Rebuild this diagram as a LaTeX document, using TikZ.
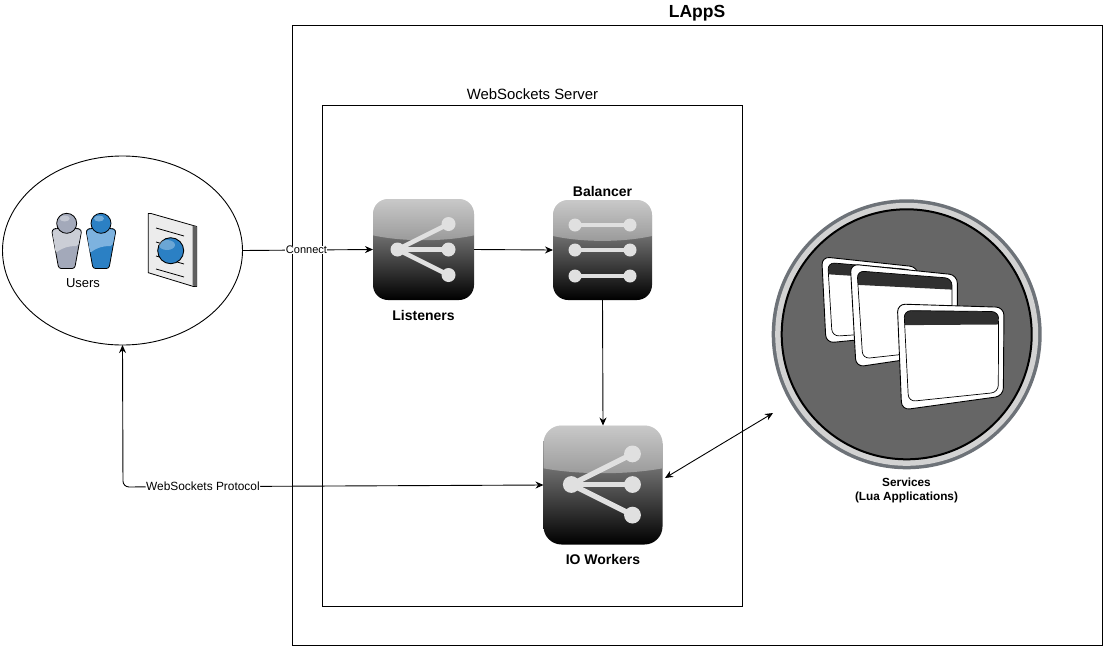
\documentclass[tikz,border=0pt]{standalone}
\usepackage{fontspec}
\setmainfont{Liberation Sans}
\usetikzlibrary{arrows.meta,calc,positioning,shapes.geometric}

\definecolor{capgray}{HTML}{ACACAC}
\definecolor{discgray}{HTML}{666666}
\definecolor{ringgray}{HTML}{6D7278}
\definecolor{ringlight}{HTML}{D2D2D2}
\definecolor{barblack}{HTML}{303030}
\definecolor{glyphgray}{HTML}{E0E0E0}
\definecolor{userblue}{HTML}{2B80C4}
\definecolor{userblueup}{HTML}{7DB2DF}
\definecolor{usergray}{HTML}{A3A9BA}
\definecolor{usergrayup}{HTML}{CBCED6}

\tikzset{
  boxframe/.style={draw, thin, line width=0.9pt, inner sep=0, outer sep=0},
  title/.style={font=\fontsize{14.9}{17}\selectfont, inner sep=0},
  iconlabel/.style={font=\fontsize{14}{16}\selectfont\bfseries, inner sep=0},
  edgelabel/.style={fill=white, inner sep=0.5pt, font=\fontsize{11}{13}\selectfont},
  link/.style={line width=0.9pt, -{Stealth[length=8pt,width=7pt]}},
  appicon/.style={rounded corners=#1, top color=capgray, bottom color=black,
    inner sep=0, outer sep=0,
    path picture={
      \coordinate (gl) at ($(path picture bounding box.north west)!.36!(path picture bounding box.south west)$);
      \coordinate (gr) at ($(path picture bounding box.north east)!.36!(path picture bounding box.south east)$);
      \fill[white, opacity=.35, sharp corners] (path picture bounding box.north west)
        -- (path picture bounding box.north east) -- (gr)
        .. controls ($(gr)!.3!(gl)+(0,6.5)$) and ($(gr)!.7!(gl)+(0,6.5)$) .. (gl)
        -- cycle;
    }},
  glyph/.style={draw=glyphgray, fill=glyphgray},
}

% fan of three spokes, #1 centre, #2 scale
\newcommand{\fanglyph}[2]{
  \begin{scope}[shift={(#1)}, scale=#2, glyph, line width=#2*4.5pt]
    \foreach \y in {-25.5,0,25.5} {
      \draw (-26,0) -- (25,\y);
      \fill (25,\y) circle (7);
    }
    \fill (-26,0) circle (7);
  \end{scope}
}

% one person, #1 centre x, #2 head, #3 upper body, #4 lower body
\newcommand{\person}[4]{
  \draw[fill=#4, line width=0.8pt, rounded corners=2.5] (#1-15,230) -- (#1-11,228.5) -- (#1+11,228.5) -- (#1+15,230)
    -- (#1+8,268.5) -- (#1-8,268.5) -- cycle;
  \fill[#3, rounded corners=2] (#1-14.4,230.6) -- (#1-11,229.2) -- (#1+11,229.2) -- (#1+14.4,230.6)
    -- (#1+11.5,246) .. controls (#1,246) and (#1-6,249) .. (#1-11,253) -- cycle;
  \draw[fill=#2, line width=0.8pt] (#1,223.3) circle (10);
  \fill[white, opacity=.35] (#1-2,218.5) ellipse (5 and 3);
}

% application window, #1..#4 corners clockwise from top left
\newcommand{\appwindow}[4]{
  \coordinate (tl) at #1; \coordinate (tr) at #2;
  \coordinate (br) at #3; \coordinate (bl) at #4;
  \coordinate (itl) at (barycentric cs:tl=.88,tr=.06,bl=.06);
  \coordinate (itr) at (barycentric cs:tr=.9,tl=.05,br=.05);
  \coordinate (ibr) at (barycentric cs:br=.9,bl=.05,tr=.05);
  \coordinate (ibl) at (barycentric cs:bl=.86,br=.07,tl=.07);
  \draw[fill=white, line width=0.9pt, rounded corners=8] (tl) -- (tr) -- (br) -- (bl) -- cycle;
  \begin{scope}
    \clip[rounded corners=7] (itl) -- (itr) -- (ibr) -- (ibl) -- cycle;
    \fill[barblack] (itl) -- (itr) -- ($(itr)!.16!(ibr)$) -- ($(itl)!.16!(ibl)$) -- cycle;
  \end{scope}
  \draw[line width=0.7pt, rounded corners=7] (itl) -- (itr) -- (ibr) -- (ibl) -- cycle;
}

\begin{document}
\begin{tikzpicture}[x=1pt, y=-1pt]
\useasboundingbox (0,0) rectangle (1105,648);

% Frames
\node[boxframe, minimum width=809.5pt, minimum height=619.5pt] (lapps) at (697.25,335.5) {};
\node[iconlabel, font=\fontsize{17.5}{20}\selectfont\bfseries] (lappstitle) at (697,13) {LAppS};
\node[boxframe, minimum width=420pt, minimum height=500.5pt] (server) at (532.5,355.75) {};
\node[title, above=6pt of server] (servertitle) {WebSockets Server};

% Users
\node[boxframe, ellipse, minimum width=240pt, minimum height=189pt] (users) at (122.5,250.5) {};
\person{66.7}{usergray}{usergrayup}{usergray}
\person{101}{userblue}{userblueup}{userblue}
\node[inner sep=0, font=\fontsize{13}{15}\selectfont] (userstext) at (83,283.5) {Users};

% Document with globe
\draw[fill=gray!15, line width=0.8pt, line join=round] (148.3,213.5) -- (151,213.5) -- (196.7,226.5) -- (196.7,286.5) -- (193.5,286.5) -- (148.3,272.7) -- cycle;
\fill[gray!75!black] (192.5,225.5) -- (196.7,226.5) -- (196.7,286.5) -- (192.5,285.5) -- cycle;
\foreach \y in {0,14,28,41} {
  \draw[line width=0.8pt] (156,228+\y) -- (184,236+\y);
}
\draw[fill=userblue, line width=0.9pt] (170.7,250.7) circle (13);
\fill[white, opacity=.3] (167,245) ellipse (8 and 5);

% Icons
\node[appicon=15pt, minimum width=101pt, minimum height=101pt] (listeners) at (423.5,249.5) {};
\node[appicon=15pt, minimum width=99pt, minimum height=100pt] (balancer) at (602.5,250) {};
\node[appicon=18pt, minimum width=119pt, minimum height=119pt] (workers) at (603,485) {};
\fanglyph{423.5,249.5}{1}
\fanglyph{602.5,484.5}{1.2}
\begin{scope}[glyph, line width=4.5pt]
\foreach \y in {225,250,276} {
  \draw (575,\y) -- (630,\y);
  \fill (575,\y) circle (6.5);
  \fill (630,\y) circle (6.5);
}
\end{scope}
\node[iconlabel, below=10pt of listeners] (listenerstext) {Listeners};
\node[iconlabel, above=3.5pt of balancer] (balancertext) {Balancer};
\node[iconlabel, below=10pt of workers] (workerstext) {IO Workers};

% Services
\node[circle, fill=ringgray, minimum size=270pt, inner sep=0, outer sep=0] (services) at (906.7,334.3) {};
\fill[ringlight] (services) circle (131.5);
\draw[fill=discgray, line width=2pt] (services) circle (125);
\appwindow{(821.7,256.7)}{(918,267)}{(918,334)}{(826,343)}
\appwindow{(850.3,264)}{(957.3,275)}{(957.3,352)}{(856,367)}
\appwindow{(897.3,304)}{(1004,307.3)}{(1003.3,396)}{(901.7,410)}
\node[inner sep=0, align=center, font=\fontsize{11.8}{14}\selectfont\bfseries] (servicestext) at (906.5,490) {Services\\(Lua Applications)};

% Connections
\coordinate (bend) at (123,487);
\coordinate (workersport) at (665,478);
\coordinate (servicesport) at (773,413);
\draw[link] (users.east) -- node[edgelabel, pos=.49] (connect) {Connect} (listeners.west);
\draw[link] (listeners.east) -- (balancer.west);
\draw[link] (balancer.south) -- (workers.north);
\draw[link, {Stealth[length=8pt,width=7pt]}-{Stealth[length=8pt,width=7pt]}] (workersport) -- (servicesport);
\draw[link, {Stealth[length=8pt,width=7pt]}-{Stealth[length=8pt,width=7pt]}, rounded corners=6pt] (workers.west) -- node[edgelabel, pos=.81, font=\fontsize{11.9}{13}\selectfont] (protocol) {WebSockets Protocol} (bend) -- (users.south);
\end{tikzpicture}
\end{document}
